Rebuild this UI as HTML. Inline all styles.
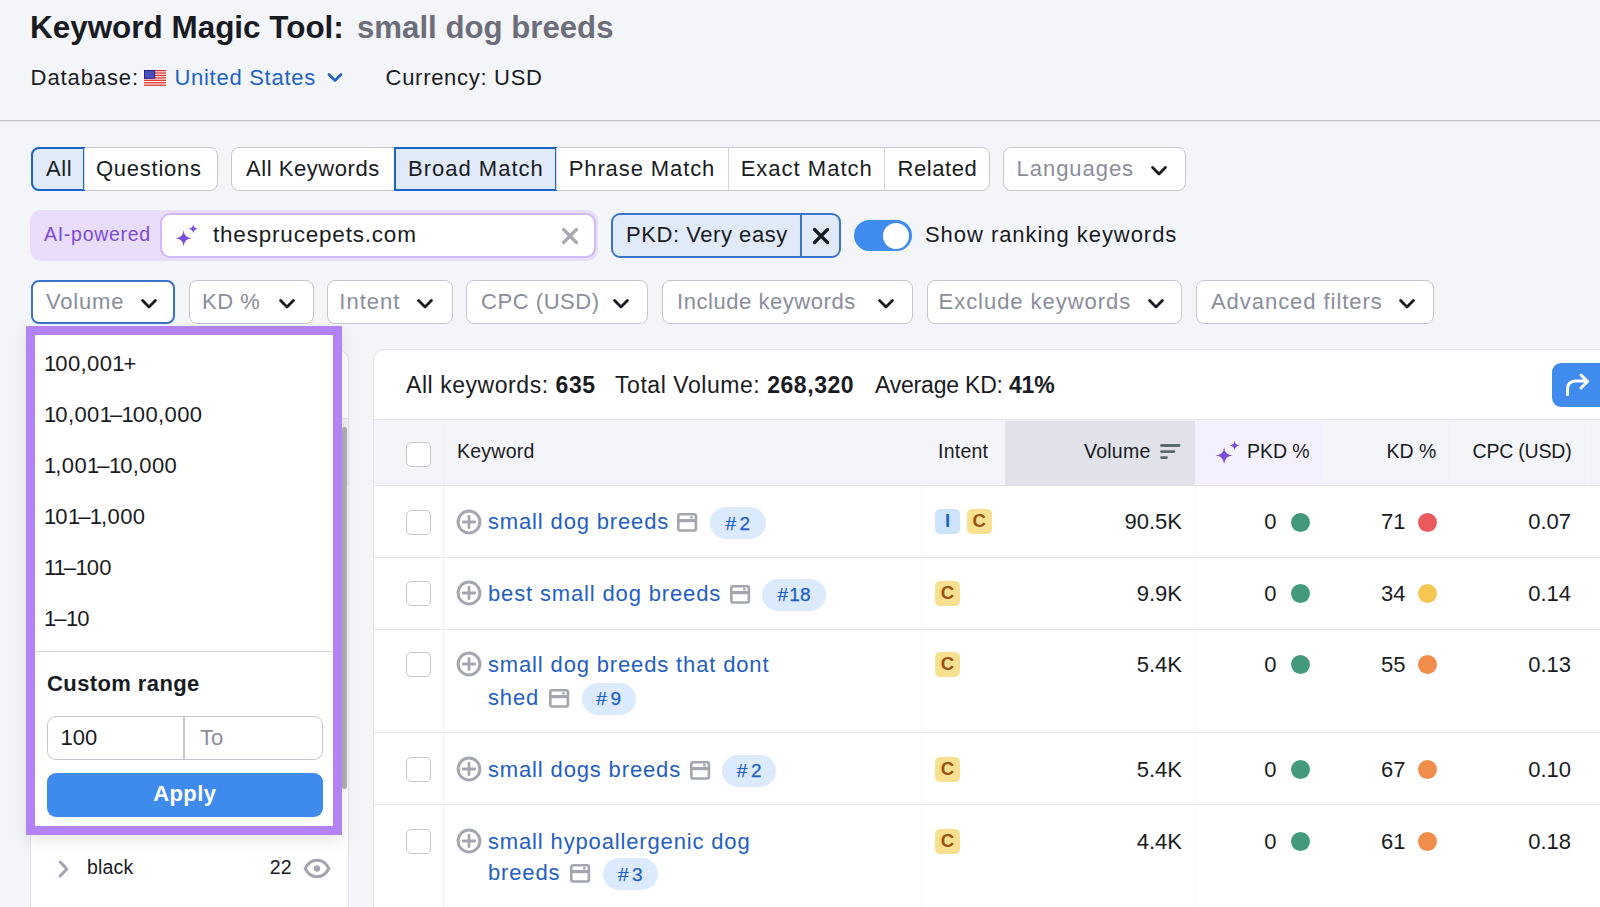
<!DOCTYPE html>
<html><head><meta charset="utf-8">
<style>
*{box-sizing:border-box;margin:0;padding:0}
html,body{width:1600px;height:907px;overflow:hidden;background:#f4f5f9;font-family:"Liberation Sans",sans-serif;color:#191b23}
.a{position:absolute}
.t{position:absolute;white-space:nowrap;line-height:1}
.chev{display:inline-block}
/* segmented buttons */
.seg{position:absolute;top:147px;height:44px;display:flex;background:#fff;border:1px solid #c4c7cf;border-radius:8px}
.seg>div{position:relative;height:100%;display:flex;align-items:center;font-size:22px;letter-spacing:0.55px;border-left:1px solid #d3d5dc}
.seg>div:first-child{border-left:none}
.seg>div.on{background:#e0eaf8}
.seg>div.on:after{content:"";position:absolute;left:-1px;top:-1px;right:-1px;bottom:-1px;border:2px solid #1a64c9;border-radius:inherit}
.sel{position:absolute;height:44px;background:#fff;border:1px solid #c4c7cf;border-radius:8px;display:flex;align-items:center;font-size:22px;color:#8a8e9b;letter-spacing:0.55px}
.sel svg{position:absolute;top:50%;margin-top:-3.5px}

.cb{position:absolute;width:25px;height:25px;border:1.5px solid #c4c7cf;border-radius:5px;background:#fff}
.hd{position:absolute;white-space:nowrap;line-height:1;font-size:19.5px;letter-spacing:0.25px;top:442.2px}
.lk{position:absolute;white-space:nowrap;line-height:1;font-size:22px;letter-spacing:0.85px;color:#1f60c6}
.num{position:absolute;white-space:nowrap;line-height:1;font-size:22px;text-align:right}
.dot{position:absolute;width:19px;height:19px;border-radius:50%}
.ib{position:absolute;width:25px;height:25px;border-radius:5px;font-size:18.6px;font-weight:700;display:flex;align-items:center;justify-content:center;line-height:1}
.ib.c{background:#f7e191;color:#9a500f}
.ib.i{background:#cde3fb;color:#1c63c8}
.bd{position:absolute;height:31.5px;border-radius:16px;background:#dbeafd;color:#1f60c6;font-size:19px;letter-spacing:0;-webkit-text-stroke:0.25px #1f60c6;display:flex;align-items:center;justify-content:center;line-height:1}
.hl{position:absolute;left:374px;width:1226px;height:1.5px;background:#e3e4ea}
.n1{font-style:normal;letter-spacing:-1px}
.dh{font-style:normal;margin:0 -1px}
</style></head>
<body>
<!-- Title -->
<div class="t" style="left:30px;top:11.8px;font-size:31.45px;font-weight:700;color:#191b23">Keyword Magic Tool:</div>
<div class="t" style="left:357px;top:12px;font-size:31.2px;font-weight:700;color:#6c6e79">small dog breeds</div>

<div class="t" style="left:30.6px;top:67px;font-size:22px;letter-spacing:0.9px">Database:</div>
<svg class="a" style="left:144px;top:69.5px" width="22" height="16" viewBox="0 0 22 16"><rect width="22" height="15.8" fill="#fbe9e8"/><rect y="0.000" width="22" height="1.215" fill="#e0302a"/><rect y="2.431" width="22" height="1.215" fill="#e0302a"/><rect y="4.862" width="22" height="1.215" fill="#e0302a"/><rect y="7.292" width="22" height="1.215" fill="#e0302a"/><rect y="9.723" width="22" height="1.215" fill="#e0302a"/><rect y="12.154" width="22" height="1.215" fill="#e0302a"/><rect y="14.585" width="22" height="1.215" fill="#e0302a"/><rect x="0.4" y="0.4" width="10.4" height="7.9" fill="#4a4fb8" stroke="#12139e" stroke-width="0.8"/></svg>
<div class="t" style="left:174.4px;top:67px;font-size:22px;letter-spacing:0.73px;color:#1f63c9">United States</div>
<svg class="a" style="left:327px;top:72px" width="16" height="11" viewBox="0 0 16 11"><path d="M2 2.5l6 6 6-6" stroke="#1f63c9" stroke-width="2.6" fill="none" stroke-linecap="round" stroke-linejoin="round"/></svg>
<div class="t" style="left:385.6px;top:67px;font-size:22px;letter-spacing:0.7px">Currency: USD</div>

<div class="a" style="left:0;top:120px;width:1600px;height:1px;background:#c3c5cc"></div><div class="a" style="left:0;top:121px;width:1600px;height:1px;background:#e1e2e7"></div>

<!-- Row 1: segmented -->
<div class="seg" style="left:31px;width:187px">
  <div class="on" style="width:52px;padding-left:14px;border-radius:8px 0 0 8px;margin-left:0">All</div>
  <div style="padding-left:11px;flex:1;letter-spacing:0.75px">Questions</div>
</div>
<div class="seg" style="left:231px;width:759px">
  <div style="width:162px;padding-left:14px">All Keywords</div>
  <div class="on" style="width:162.4px;padding-left:13px;letter-spacing:1px">Broad Match</div>
  <div style="width:171.3px;padding-left:11.3px;letter-spacing:0.9px">Phrase Match</div>
  <div style="width:156.4px;padding-left:12px;letter-spacing:1px">Exact Match</div>
  <div style="flex:1;padding-left:12.5px">Related</div>
</div>
<div class="sel" style="left:1003px;top:147px;width:183px;padding-left:12.6px;letter-spacing:0.95px">Languages
 <svg style="left:147px" width="16" height="11" viewBox="0 0 16 11"><path d="M1.6 1.6l6.4 6.4 6.4-6.4" stroke="#191b23" stroke-width="2.8" fill="none" stroke-linecap="round" stroke-linejoin="round"/></svg>
</div>

<!-- Row 2: AI powered -->
<div class="a" style="left:30px;top:210px;width:568px;height:51px;background:#eadcfb;border-radius:11px"></div>
<div class="t" style="left:44px;top:225.2px;font-size:19.5px;color:#7a4cd9;letter-spacing:0.72px">AI-powered</div>
<div class="a" style="left:160px;top:213px;width:436px;height:45px;background:#fff;border:2px solid #d3b8f9;border-radius:10px"></div>
<svg class="a" style="left:175px;top:223px" width="24" height="24" viewBox="0 0 24 24"><g fill="#7b4ed9">
<path d="M8.60 7.20Q9.25 14.65 16.70 15.30Q9.25 15.95 8.60 23.40Q7.95 15.95 0.50 15.30Q7.95 14.65 8.60 7.20Z"/>
<path d="M18.20 1.00Q18.58 5.42 23.00 5.80Q18.58 6.18 18.20 10.60Q17.82 6.18 13.40 5.80Q17.82 5.42 18.20 1.00Z"/></g></svg>
<div class="t" style="left:213px;top:224px;font-size:22.5px;letter-spacing:0.8px">thesprucepets.com</div>
<svg class="a" style="left:561px;top:227px" width="18" height="18" viewBox="0 0 18 18"><path d="M2.5 2.5l13 13M15.5 2.5l-13 13" stroke="#a6a9b2" stroke-width="3.2" stroke-linecap="round"/></svg>

<div class="a" style="left:611px;top:213px;width:230px;height:45px;background:#e0eaf8;border:2px solid #3d74cb;border-radius:9px"></div>
<div class="a" style="left:800px;top:214px;width:2px;height:43px;background:#3d74cb"></div>
<div class="t" style="left:626px;top:224px;font-size:22px;letter-spacing:0.55px">PKD: Very easy</div>
<svg class="a" style="left:812px;top:227px" width="18" height="18" viewBox="0 0 18 18"><path d="M2.5 2.5l13 13M15.5 2.5l-13 13" stroke="#191b23" stroke-width="3.3" stroke-linecap="round"/></svg>

<div class="a" style="left:854px;top:220px;width:58px;height:31px;background:#3f8cee;border-radius:16px"></div>
<div class="a" style="left:883px;top:222.5px;width:26px;height:26px;background:#fff;border-radius:50%"></div>
<div class="t" style="left:925px;top:224.2px;font-size:22px;letter-spacing:0.95px">Show ranking keywords</div>

<!-- Row 3: filters -->
<div class="sel" style="left:31px;top:280px;width:144px;padding-left:13px;border:2px solid #3a72cb;letter-spacing:0.8px">Volume
 <svg style="left:107.5px" width="16" height="11" viewBox="0 0 16 11"><path d="M1.6 1.6l6.4 6.4 6.4-6.4" stroke="#191b23" stroke-width="2.8" fill="none" stroke-linecap="round" stroke-linejoin="round"/></svg></div>
<div class="sel" style="left:189px;top:280px;width:125px;padding-left:12px">KD %
 <svg style="left:89px" width="16" height="11" viewBox="0 0 16 11"><path d="M1.6 1.6l6.4 6.4 6.4-6.4" stroke="#191b23" stroke-width="2.8" fill="none" stroke-linecap="round" stroke-linejoin="round"/></svg></div>
<div class="sel" style="left:327px;top:280px;width:126px;padding-left:11.3px;letter-spacing:1px">Intent
 <svg style="left:89px" width="16" height="11" viewBox="0 0 16 11"><path d="M1.6 1.6l6.4 6.4 6.4-6.4" stroke="#191b23" stroke-width="2.8" fill="none" stroke-linecap="round" stroke-linejoin="round"/></svg></div>
<div class="sel" style="left:466px;top:280px;width:182px;padding-left:14px">CPC (USD)
 <svg style="left:146px" width="16" height="11" viewBox="0 0 16 11"><path d="M1.6 1.6l6.4 6.4 6.4-6.4" stroke="#191b23" stroke-width="2.8" fill="none" stroke-linecap="round" stroke-linejoin="round"/></svg></div>
<div class="sel" style="left:662px;top:280px;width:251px;padding-left:14px">Include keywords
 <svg style="left:215px" width="16" height="11" viewBox="0 0 16 11"><path d="M1.6 1.6l6.4 6.4 6.4-6.4" stroke="#191b23" stroke-width="2.8" fill="none" stroke-linecap="round" stroke-linejoin="round"/></svg></div>
<div class="sel" style="left:927px;top:280px;width:255px;padding-left:10.6px;letter-spacing:0.95px">Exclude keywords
 <svg style="left:220px" width="16" height="11" viewBox="0 0 16 11"><path d="M1.6 1.6l6.4 6.4 6.4-6.4" stroke="#191b23" stroke-width="2.8" fill="none" stroke-linecap="round" stroke-linejoin="round"/></svg></div>
<div class="sel" style="left:1196px;top:280px;width:238px;padding-left:14px;letter-spacing:0.95px">Advanced filters
 <svg style="left:202px" width="16" height="11" viewBox="0 0 16 11"><path d="M1.6 1.6l6.4 6.4 6.4-6.4" stroke="#191b23" stroke-width="2.8" fill="none" stroke-linecap="round" stroke-linejoin="round"/></svg></div>

<!-- left panel -->
<div class="a" style="left:30px;top:350px;width:319px;height:600px;background:#fff;border:1px solid #e0e1e8;border-radius:10px 10px 0 0"></div>
<div class="a" style="left:31px;top:418px;width:317px;height:67px;background:#f0f1f5;border-top:1.5px solid #e3e4ea;border-bottom:1px solid #e3e4ea"></div>
<div class="a" style="left:342px;top:426.5px;width:5px;height:362px;background:#aeb0b5;border-radius:3px"></div>
<svg class="a" style="left:57px;top:859px" width="14" height="20" viewBox="0 0 14 20"><path d="M3.2 3l6.6 7-6.6 7" stroke="#a3a6b0" stroke-width="3" fill="none" stroke-linecap="round" stroke-linejoin="round"/></svg>
<div class="t" style="left:87px;top:858.3px;font-size:19.5px;letter-spacing:0.2px">black</div>
<div class="t" style="left:269.8px;top:858.3px;font-size:19.5px">22</div>
<svg class="a" style="left:303px;top:858px" width="28" height="21" viewBox="0 0 28 21"><path d="M2.2 10.5C5 4.8 9.5 2.2 14 2.2s9 2.6 11.8 8.3C23 16.2 18.5 18.8 14 18.8S5 16.2 2.2 10.5Z" fill="none" stroke="#a3a6b0" stroke-width="3"/><circle cx="14" cy="10.5" r="3.2" fill="#a3a6b0"/></svg>

<!-- main card -->
<div class="a" style="left:373px;top:349px;width:1240px;height:600px;background:#fff;border:1px solid #e0e1e8;border-radius:11px 0 0 0"></div>
<div class="t" style="left:406px;top:374.3px;font-size:23px;letter-spacing:0.55px">All keywords: <b>635</b></div>
<div class="t" style="left:615px;top:374.3px;font-size:23px;letter-spacing:0.55px">Total Volume: <b>268,320</b></div>
<div class="t" style="left:875px;top:374.3px;font-size:23px;letter-spacing:-0.2px">Average KD: <b>41%</b></div>
<div class="a" style="left:1552px;top:363px;width:60px;height:44px;background:#3f8cee;border-radius:9px"></div>
<svg class="a" style="left:1564px;top:372px" width="27" height="26" viewBox="0 0 27 26"><path d="M3.5 22.5v-5.5c0-5 3-8 8-8H23.5M17 3l6.5 6.5L17 16" stroke="#fff" stroke-width="3" fill="none" stroke-linecap="round" stroke-linejoin="round"/></svg>

<!-- table header -->
<div class="a" style="left:374px;top:419px;width:1226px;height:67px;background:#f4f5f9;border-top:1.5px solid #e3e4ea;border-bottom:1.5px solid #e3e4ea"></div>
<div class="a" style="left:1005px;top:420.5px;width:190px;height:64px;background:#e0e1e9"></div>
<div class="a" style="left:1195px;top:420.5px;width:128px;height:64px;background:#f5f0fd"></div>
<div class="cb" style="left:406px;top:442px"></div>
<div class="hd" style="left:457px">Keyword</div>
<div class="hd" style="left:938px">Intent</div>
<div class="hd" style="left:1084px">Volume</div>
<svg class="a" style="left:1159px;top:443px" width="22" height="17" viewBox="0 0 22 17"><g stroke="#5c6a70" stroke-width="2.8" stroke-linecap="round"><path d="M2.5 2.5h17.5M2.5 8.6h12.5M2.5 14.6h5"/></g></svg>
<svg class="a" style="left:1215px;top:439px" width="26" height="26" viewBox="0 0 26 26"><g fill="#7b4ed9">
<path d="M9.10 8.20Q9.77 15.93 17.50 16.60Q9.77 17.27 9.10 25.00Q8.43 17.27 0.70 16.60Q8.43 15.93 9.10 8.20Z"/>
<path d="M19.60 1.40Q20.00 6.00 24.60 6.40Q20.00 6.80 19.60 11.40Q19.20 6.80 14.60 6.40Q19.20 6.00 19.60 1.40Z"/></g></svg>
<div class="hd" style="left:1247px;letter-spacing:-0.05px">PKD %</div>
<div class="hd" style="left:1386.5px;letter-spacing:0px">KD %</div>
<div class="hd" style="left:1472.5px;letter-spacing:-0.2px">CPC (USD)</div>

<!-- rows -->
<div class="hl" style="top:556.9px"></div>
<div class="cb" style="left:406px;top:509.5px"></div>
<svg class="a" style="left:456px;top:508.55px" width="26" height="26" viewBox="0 0 26 26"><circle cx="13" cy="13" r="10.9" fill="none" stroke="#a4a7b1" stroke-width="3"/><path d="M13 7.3v11.4M7.3 13h11.4" stroke="#a4a7b1" stroke-width="2.8" stroke-linecap="round"/></svg>
<div class="lk" style="left:488px;top:511.4px">small dog breeds</div>
<svg class="a" style="left:677.4px;top:513.00px" width="21" height="20" viewBox="0 0 21 20"><rect x="1.3" y="1.3" width="17.6" height="16.15" rx="1.6" fill="none" stroke="#a3a6b0" stroke-width="2.6"/><path d="M1.5 7.6h18" stroke="#a3a6b0" stroke-width="3.2"/><rect x="13.2" y="3" width="2.4" height="2.5" fill="#a3a6b0"/></svg>
<div class="bd" style="left:710.0px;top:507.4px;width:55.5px">#<span style="margin-left:3.5px">2</span></div>
<div class="ib i" style="left:935px;top:509.0px">I</div>
<div class="ib c" style="left:966.7px;top:509.0px">C</div>
<div class="num" style="right:418px;top:511.4px">90.5K</div>
<div class="num" style="right:323.5px;top:511.4px">0</div>
<div class="dot" style="left:1290.5px;top:512.5px;background:#439a7b"></div>
<div class="num" style="right:194.5px;top:511.4px">71</div>
<div class="dot" style="left:1418px;top:512.5px;background:#ea5a5c"></div>
<div class="num" style="right:29px;top:511.4px">0.07</div>
<div class="hl" style="top:628.5px"></div>
<div class="cb" style="left:406px;top:581.2px"></div>
<svg class="a" style="left:456px;top:580.25px" width="26" height="26" viewBox="0 0 26 26"><circle cx="13" cy="13" r="10.9" fill="none" stroke="#a4a7b1" stroke-width="3"/><path d="M13 7.3v11.4M7.3 13h11.4" stroke="#a4a7b1" stroke-width="2.8" stroke-linecap="round"/></svg>
<div class="lk" style="left:488px;top:583.1px">best small dog breeds</div>
<svg class="a" style="left:730.0px;top:584.70px" width="21" height="20" viewBox="0 0 21 20"><rect x="1.3" y="1.3" width="17.6" height="16.15" rx="1.6" fill="none" stroke="#a3a6b0" stroke-width="2.6"/><path d="M1.5 7.6h18" stroke="#a3a6b0" stroke-width="3.2"/><rect x="13.2" y="3" width="2.4" height="2.5" fill="#a3a6b0"/></svg>
<div class="bd" style="left:762.0px;top:579.1px;width:64.0px">#<span style="margin-left:1.2px">18</span></div>
<div class="ib c" style="left:935px;top:580.7px">C</div>
<div class="num" style="right:418px;top:583.1px">9.9K</div>
<div class="num" style="right:323.5px;top:583.1px">0</div>
<div class="dot" style="left:1290.5px;top:584.2px;background:#439a7b"></div>
<div class="num" style="right:194.5px;top:583.1px">34</div>
<div class="dot" style="left:1418px;top:584.2px;background:#f5c651"></div>
<div class="num" style="right:29px;top:583.1px">0.14</div>
<div class="hl" style="top:731.8px"></div>
<div class="cb" style="left:406px;top:652.1px"></div>
<svg class="a" style="left:456px;top:651.15px" width="26" height="26" viewBox="0 0 26 26"><circle cx="13" cy="13" r="10.9" fill="none" stroke="#a4a7b1" stroke-width="3"/><path d="M13 7.3v11.4M7.3 13h11.4" stroke="#a4a7b1" stroke-width="2.8" stroke-linecap="round"/></svg>
<div class="lk" style="left:488px;top:654.0px">small dog breeds that dont</div>
<div class="lk" style="left:488px;top:687.2px">shed</div>
<svg class="a" style="left:548.5px;top:688.80px" width="21" height="20" viewBox="0 0 21 20"><rect x="1.3" y="1.3" width="17.6" height="16.15" rx="1.6" fill="none" stroke="#a3a6b0" stroke-width="2.6"/><path d="M1.5 7.6h18" stroke="#a3a6b0" stroke-width="3.2"/><rect x="13.2" y="3" width="2.4" height="2.5" fill="#a3a6b0"/></svg>
<div class="bd" style="left:581.6px;top:683.2px;width:54.1px">#<span style="margin-left:3.5px">9</span></div>
<div class="ib c" style="left:935px;top:651.6px">C</div>
<div class="num" style="right:418px;top:654.0px">5.4K</div>
<div class="num" style="right:323.5px;top:654.0px">0</div>
<div class="dot" style="left:1290.5px;top:655.1px;background:#439a7b"></div>
<div class="num" style="right:194.5px;top:654.0px">55</div>
<div class="dot" style="left:1418px;top:655.1px;background:#f08d4b"></div>
<div class="num" style="right:29px;top:654.0px">0.13</div>
<div class="hl" style="top:803.7px"></div>
<div class="cb" style="left:406px;top:757.1px"></div>
<svg class="a" style="left:456px;top:756.15px" width="26" height="26" viewBox="0 0 26 26"><circle cx="13" cy="13" r="10.9" fill="none" stroke="#a4a7b1" stroke-width="3"/><path d="M13 7.3v11.4M7.3 13h11.4" stroke="#a4a7b1" stroke-width="2.8" stroke-linecap="round"/></svg>
<div class="lk" style="left:488px;top:759.0px">small dogs breeds</div>
<svg class="a" style="left:689.5px;top:760.60px" width="21" height="20" viewBox="0 0 21 20"><rect x="1.3" y="1.3" width="17.6" height="16.15" rx="1.6" fill="none" stroke="#a3a6b0" stroke-width="2.6"/><path d="M1.5 7.6h18" stroke="#a3a6b0" stroke-width="3.2"/><rect x="13.2" y="3" width="2.4" height="2.5" fill="#a3a6b0"/></svg>
<div class="bd" style="left:721.8px;top:755.0px;width:54.7px">#<span style="margin-left:3.5px">2</span></div>
<div class="ib c" style="left:935px;top:756.6px">C</div>
<div class="num" style="right:418px;top:759.0px">5.4K</div>
<div class="num" style="right:323.5px;top:759.0px">0</div>
<div class="dot" style="left:1290.5px;top:760.1px;background:#439a7b"></div>
<div class="num" style="right:194.5px;top:759.0px">67</div>
<div class="dot" style="left:1418px;top:760.1px;background:#f08d4b"></div>
<div class="num" style="right:29px;top:759.0px">0.10</div>
<div class="hl" style="top:949.5px"></div>
<div class="cb" style="left:406px;top:829.0px"></div>
<svg class="a" style="left:456px;top:828.05px" width="26" height="26" viewBox="0 0 26 26"><circle cx="13" cy="13" r="10.9" fill="none" stroke="#a4a7b1" stroke-width="3"/><path d="M13 7.3v11.4M7.3 13h11.4" stroke="#a4a7b1" stroke-width="2.8" stroke-linecap="round"/></svg>
<div class="lk" style="left:488px;top:830.9px">small hypoallergenic dog</div>
<div class="lk" style="left:488px;top:862.4px">breeds</div>
<svg class="a" style="left:570.0px;top:864.00px" width="21" height="20" viewBox="0 0 21 20"><rect x="1.3" y="1.3" width="17.6" height="16.15" rx="1.6" fill="none" stroke="#a3a6b0" stroke-width="2.6"/><path d="M1.5 7.6h18" stroke="#a3a6b0" stroke-width="3.2"/><rect x="13.2" y="3" width="2.4" height="2.5" fill="#a3a6b0"/></svg>
<div class="bd" style="left:603.0px;top:858.4px;width:54.5px">#<span style="margin-left:3.5px">3</span></div>
<div class="ib c" style="left:935px;top:828.5px">C</div>
<div class="num" style="right:418px;top:830.9px">4.4K</div>
<div class="num" style="right:323.5px;top:830.9px">0</div>
<div class="dot" style="left:1290.5px;top:832.0px;background:#439a7b"></div>
<div class="num" style="right:194.5px;top:830.9px">61</div>
<div class="dot" style="left:1418px;top:832.0px;background:#f08d4b"></div>
<div class="num" style="right:29px;top:830.9px">0.18</div>
<div class="a" style="left:443px;top:486px;width:1px;height:421px;background:#eef0f3"></div>
<div class="a" style="left:921px;top:486px;width:1px;height:421px;background:#f7f7f9"></div>
<div class="a" style="left:1195px;top:486px;width:1px;height:421px;background:#f6f6f8"></div>
<div class="a" style="left:443px;top:421px;width:1px;height:64px;background:#eff0f4"></div>
<div class="a" style="left:1449px;top:421px;width:1px;height:64px;background:#eff0f4"></div>
<div class="a" style="left:1584px;top:421px;width:1px;height:64px;background:#eff0f4"></div>
<!-- dropdown -->
<div class="a" style="left:26px;top:326px;width:316px;height:508.5px;background:#fff;border:9px solid #b282f6;box-shadow:0 6px 14px rgba(25,27,35,0.10)"></div>
<div class="t" style="left:44px;top:352.8px;font-size:22px;letter-spacing:0.4px"><i class="n1">1</i>00,00<i class="n1">1</i>+</div>
<div class="t" style="left:44px;top:403.8px;font-size:22px;letter-spacing:0.4px"><i class="n1">1</i>0,00<i class="n1">1</i><i class="dh">–</i><i class="n1">1</i>00,000</div>
<div class="t" style="left:44px;top:454.8px;font-size:22px;letter-spacing:0.4px"><i class="n1">1</i>,00<i class="n1">1</i><i class="dh">–</i><i class="n1">1</i>0,000</div>
<div class="t" style="left:44px;top:505.8px;font-size:22px;letter-spacing:0.4px"><i class="n1">1</i>0<i class="n1">1</i><i class="dh">–</i><i class="n1">1</i>,000</div>
<div class="t" style="left:44px;top:556.8px;font-size:22px;letter-spacing:0.4px"><i class="n1">1</i><i class="n1">1</i><i class="dh">–</i><i class="n1">1</i>00</div>
<div class="t" style="left:44px;top:607.8px;font-size:22px;letter-spacing:0.4px"><i class="n1">1</i><i class="dh">–</i><i class="n1">1</i>0</div>
<div class="a" style="left:35px;top:650.5px;width:298px;height:1.5px;background:#d5d7de"></div>
<div class="t" style="left:47px;top:673.4px;font-size:22px;font-weight:700;letter-spacing:0.4px">Custom range</div>
<div class="a" style="left:47px;top:716px;width:275.5px;height:43.5px;border:1.5px solid #c4c7cf;border-radius:9px;background:#fff"></div>
<div class="a" style="left:183px;top:717px;width:1.5px;height:41.5px;background:#c4c7cf"></div>
<div class="t" style="left:60.5px;top:727px;font-size:22px">100</div>
<div class="t" style="left:200px;top:727px;font-size:22px;color:#8a8e9b">To</div>
<div class="a" style="left:47px;top:773px;width:275.5px;height:43.5px;border-radius:9px;background:#3e8bed"></div>
<div class="t" style="left:47px;width:275.5px;text-align:center;top:782.9px;font-size:22px;font-weight:700;color:#fff;letter-spacing:0.4px">Apply</div>

</body></html>
